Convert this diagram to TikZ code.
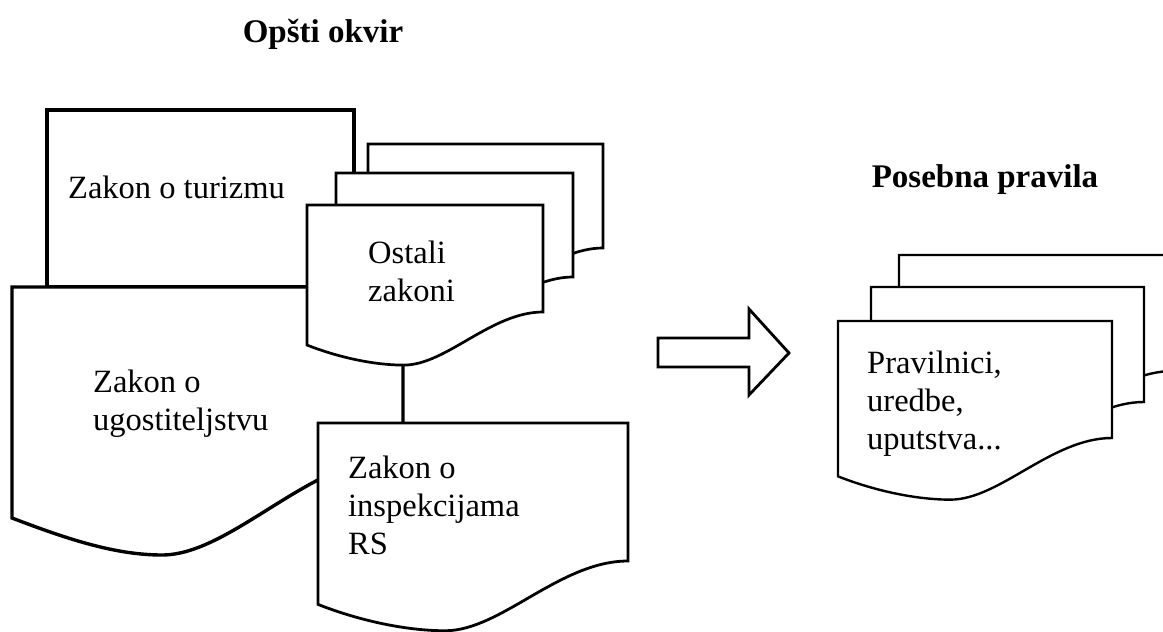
\documentclass[tikz,border=0pt]{standalone}
\usepackage{fontspec}
\setmainfont{Liberation Serif}
\tikzset{
  doc/.style={draw=black, fill=white, line width=2.7pt, line join=miter},
  thick doc/.style={doc, line width=3.4pt},
  body/.style={inner sep=0pt, anchor=base west, font=\fontsize{32.5}{38}\selectfont},
  title/.style={inner sep=0pt, anchor=base, font=\fontsize{33}{40}\selectfont\bfseries},
}
\newcommand{\docshape}[5][]{%
  \pgfmathsetmacro\dw{#4-#2}%
  \pgfmathsetmacro\dyL{#5+0.14*\dw}%
  \pgfmathsetmacro\dtx{#2+0.41*\dw}%
  \pgfmathsetmacro\dty{#5+0.225*\dw}%
  \draw[doc,#1] (#2,#3) -- (#4,#3) -- (#4,#5)
    .. controls ({#4-0.22*\dw},#5) and ({\dtx+0.18*\dw},\dty) .. (\dtx,\dty)
    .. controls ({\dtx-0.12*\dw},\dty) and ({#2+0.14*\dw},{\dyL+0.055*\dw}) .. (#2,\dyL) -- cycle;
}
\newcommand{\mlines}[1]{\vtop{\baselineskip=38pt\lineskiplimit=-100pt\lineskip=0pt #1}}
\begin{document}
\begin{tikzpicture}[x=1pt,y=-1pt]
\useasboundingbox (0,0) rectangle (1163,632);
% titles
\node[title] (t1) at (323,42) {Opšti okvir};
\node[title] (t2) at (985,187) {Posebna pravila};
% Zakon o turizmu
\draw[thick doc] (47,110) rectangle (354,287);
\node[body] (tur) at (68,198) {Zakon o turizmu};
% Zakon o ugostiteljstvu
\draw[thick doc] (12,287) -- (403,287) -- (403,455)
  .. controls (313,455) and (232,555) .. (162,555)
  .. controls (115,555) and (67,539) .. (12,518) -- cycle;
\node[body] (ugo) at (93,392) {\mlines{\hbox{Zakon o}\hbox{ugostiteljstvu}}};
% Ostali zakoni stack
\docshape{368}{144}{603}{248}
\docshape{336}{173}{573}{277}
\docshape{307}{205}{543}{312}
\node[body] (ost) at (368,263) {\mlines{\hbox{Ostali}\hbox{zakoni}}};
% Zakon o inspekcijama RS
\docshape[line width=2.8pt]{318}{423}{628}{561}
\node[body] (ins) at (348,478) {\mlines{\hbox{Zakon o}\hbox{inspekcijama}\hbox{RS}}};
% block arrow
\draw[doc, line width=2.8pt] (658,338) -- (749,338) -- (749,309) -- (789,353)
  -- (749,395) -- (749,367) -- (658,367) -- cycle;
% right stack
\docshape[line width=2.4pt]{899}{255}{1173}{371}
\docshape[line width=2.4pt]{871}{287}{1144}{402}
\docshape[line width=2.4pt]{838}{321}{1112}{438}
\node[body] (pra) at (867,373) {\mlines{\hbox{Pravilnici,}\hbox{uredbe,}\hbox{uputstva...}}};
\end{tikzpicture}
\end{document}
